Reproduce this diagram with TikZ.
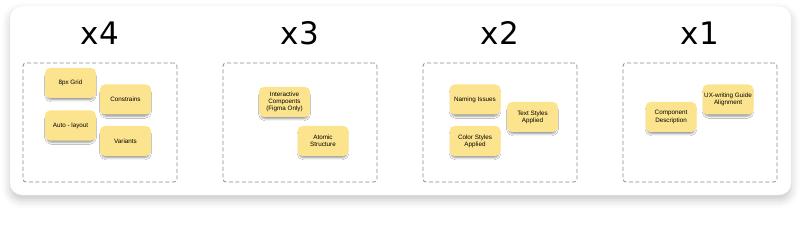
\documentclass[tikz,border=0pt]{standalone}
\usepackage{fontspec}
\setmainfont{Liberation Sans}
\newfontfamily\titlefont{DejaVu Sans}
\usepackage{xcolor}
\usepackage{tikz}
\usetikzlibrary{shadows.blur}

\definecolor{sticky}{HTML}{FCE48E}
\definecolor{panelgray}{HTML}{8A8A8A}

\begin{document}
\begin{tikzpicture}[
    x=1pt, y=-1pt,
    title/.style={font=\titlefont\fontsize{31}{31}\selectfont, inner sep=0pt},
    panel/.style={draw=panelgray, dashed, dash pattern=on 4pt off 2.5pt, line width=0.8pt,
      rounded corners=3pt, minimum width=154pt, minimum height=119pt, inner sep=0pt},
    note/.style={fill=sticky, rounded corners=5pt, minimum width=51pt, minimum height=30pt,
      inner sep=1pt, align=center, font=\fontsize{6.3}{7.2}\selectfont,
      blur shadow={shadow xshift=0pt, shadow yshift=-3pt, shadow scale=0.94,
        shadow blur radius=2pt, shadow opacity=40}},
  ]

  \useasboundingbox (0, 0) rectangle (800, 227);

  % card
  \fill[white, draw=black!5, rounded corners=12pt,
    blur shadow={shadow xshift=0pt, shadow yshift=-5pt, shadow blur radius=8pt, shadow opacity=22}]
    (10, 6) rectangle (791, 195);

  \node[title] (t4) at (100, 33) {x4};
  \node[title] (t3) at (300, 33) {x3};
  \node[title] (t2) at (500, 33) {x2};
  \node[title] (t1) at (700, 33) {x1};

  \node[panel] (p4) at (100, 122.5) {};
  \node[panel] (p3) at (300, 122.5) {};
  \node[panel] (p2) at (500, 122.5) {};
  \node[panel] (p1) at (700, 122.5) {};

  % x4
  \node[note] (grid)   at (70.5, 83)    {8px Grid};
  \node[note] (constr) at (125.5, 99.5) {Constrains};
  \node[note] (auto)   at (70.5, 125.5) {Auto - layout};
  \node[note] (variants) at (125.5, 141) {Variants};

  % x3
  \node[note] (interact) at (284.5, 102) {Interactive\\Compoents\\(Figma Only)};
  \node[note] (atomic)   at (323, 141)   {Atomic\\Structure};

  % x2
  \node[note] (naming) at (475, 99.5)  {Naming Issues};
  \node[note] (text)   at (532.5, 117) {Text Styles\\Applied};
  \node[note] (color)  at (475, 141)   {Color Styles\\Applied};

  % x1
  \node[note] (desc) at (671, 117)  {Component\\Description};
  \node[note] (ux)   at (728, 99.5) {UX-writing Guide\\Alignment};

\end{tikzpicture}
\end{document}
